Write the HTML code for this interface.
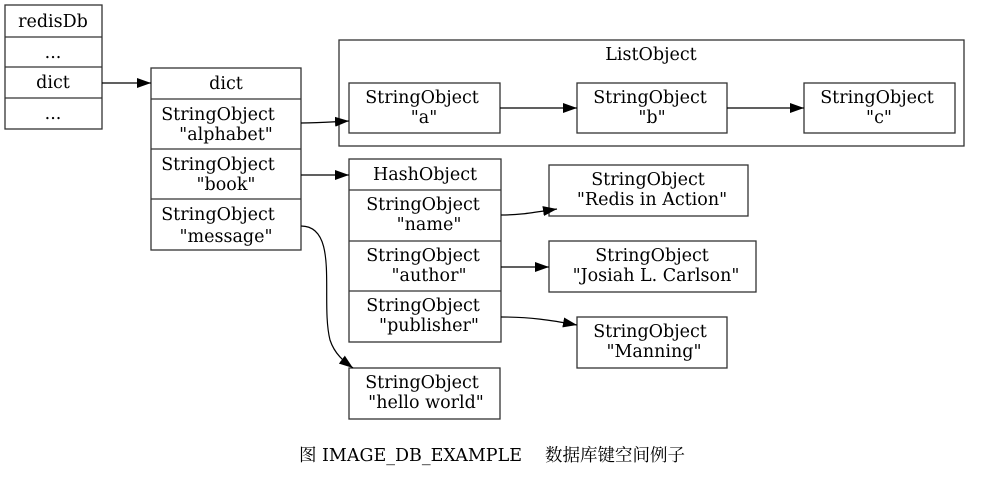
<!DOCTYPE html>
<html><head><meta charset="utf-8"><style>html,body{margin:0;padding:0;background:#fff}svg{display:block}</style></head>
<body>
<svg width="981" height="477" viewBox="0 0 981 477" xmlns="http://www.w3.org/2000/svg" font-family="'DejaVu Serif','Noto Serif CJK SC',serif" font-size="17.5" fill="#000">
<defs><marker id="ah" markerWidth="14" markerHeight="10" refX="14" refY="5" orient="auto" markerUnits="userSpaceOnUse"><path d="M0,0 L14,5 L0,10 z" fill="#000"/></marker></defs>
<g fill="none" stroke="#333" stroke-width="1.3">
<rect x="5" y="5" width="97" height="124"/><line x1="5" y1="37" x2="102" y2="37"/><line x1="5" y1="67" x2="102" y2="67"/><line x1="5" y1="98" x2="102" y2="98"/>
<rect x="151" y="68" width="150" height="182"/><line x1="151" y1="99" x2="301" y2="99"/><line x1="151" y1="149" x2="301" y2="149"/><line x1="151" y1="199" x2="301" y2="199"/>
<rect x="339" y="40" width="625" height="106"/>
<rect x="349" y="83" width="151" height="50"/><rect x="577" y="83" width="150" height="50"/><rect x="804" y="83" width="151" height="50"/>
<rect x="349" y="159" width="152" height="183"/><line x1="349" y1="190" x2="501" y2="190"/><line x1="349" y1="241" x2="501" y2="241"/><line x1="349" y1="291" x2="501" y2="291"/>
<rect x="549" y="165" width="199" height="51"/><rect x="549" y="241" width="207" height="51"/><rect x="577" y="317" width="150" height="51"/><rect x="349" y="368" width="151" height="51"/>
</g>
<g fill="none" stroke="#000" stroke-width="1.2" marker-end="url(#ah)">
<line x1="102" y1="83" x2="151" y2="83"/>
<path d="M301,123 C320,123 330,122 349,121"/>
<line x1="301" y1="175" x2="349" y2="175"/>
<path d="M301,226 C340,226 320,300 330,340 C335,355 345,362 353,368"/>
<line x1="500" y1="108" x2="577" y2="108"/>
<line x1="727" y1="108" x2="804" y2="108"/>
<path d="M501,215 C520,215 530,213 557,209"/>
<line x1="501" y1="267" x2="549" y2="267"/>
<path d="M501,317 C530,317 550,320 577,325"/>
</g>
<g text-anchor="middle">
<text x="53" y="27">redisDb</text><text x="53" y="58">...</text><text x="53" y="88">dict</text><text x="53" y="119">...</text>
<text x="226" y="89">dict</text>
<text x="218" y="120">StringObject</text><text x="226" y="140">"alphabet"</text>
<text x="218" y="170">StringObject</text><text x="226" y="190">"book"</text>
<text x="218" y="220">StringObject</text><text x="226" y="242">"message"</text>
<text x="651" y="60">ListObject</text>
<text x="422" y="103">StringObject</text><text x="424" y="123">"a"</text>
<text x="650" y="103">StringObject</text><text x="652" y="123">"b"</text>
<text x="877" y="103">StringObject</text><text x="879" y="123">"c"</text>
<text x="425" y="180">HashObject</text>
<text x="423" y="210">StringObject</text><text x="429" y="230">"name"</text>
<text x="423" y="261">StringObject</text><text x="429" y="281">"author"</text>
<text x="423" y="311">StringObject</text><text x="429" y="331">"publisher"</text>
<text x="648" y="185">StringObject</text><text x="652" y="205">"Redis in Action"</text>
<text x="652" y="261">StringObject</text><text x="656" y="281">"Josiah L. Carlson"</text>
<text x="650" y="337">StringObject</text><text x="654" y="357">"Manning"</text>
<text x="422" y="388">StringObject</text><text x="426" y="408">"hello world"</text>
<text x="492" y="461">图 IMAGE_DB_EXAMPLE　 数据库键空间例子</text>
</g>
</svg>
</body></html>
